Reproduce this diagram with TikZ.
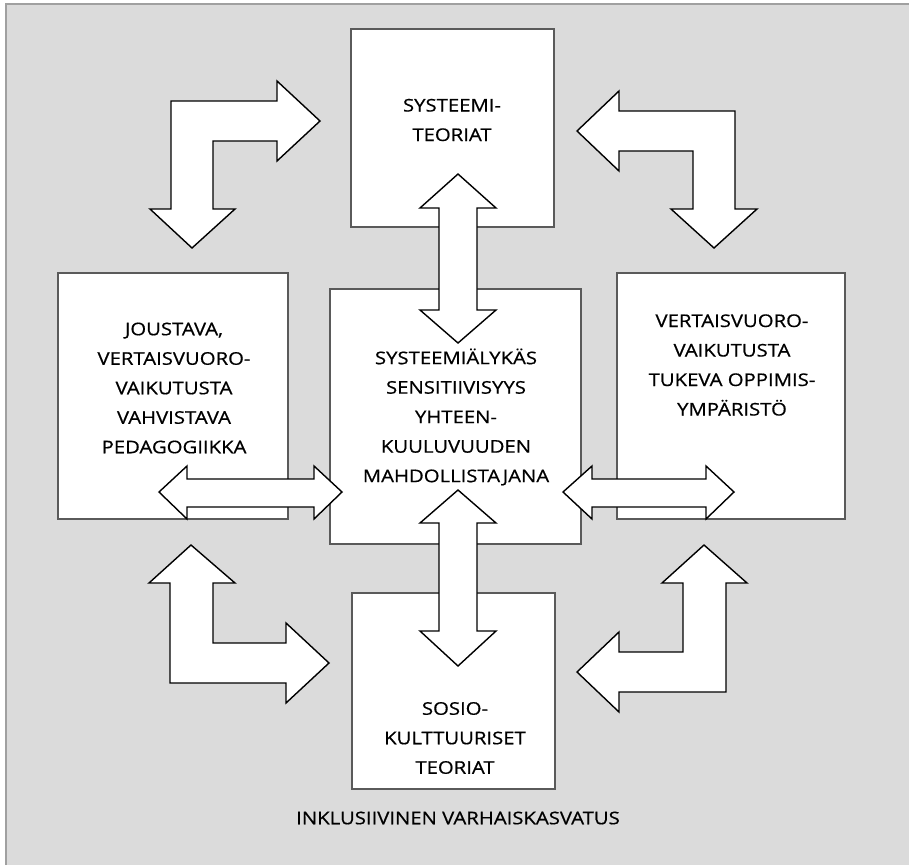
\documentclass[tikz,border=0pt]{standalone}
\usepackage{fontspec}
\setmainfont{Open Sans}[FakeStretch=1.16, FakeBold=0.6]
\usepackage{tikz}
\usetikzlibrary{positioning}
\definecolor{TaustaHarmaa}{RGB}{219,219,219}
\definecolor{ReunaHarmaa}{RGB}{160,160,160}
\definecolor{LaatikkoReuna}{RGB}{90,90,90}

\begin{document}
\begin{tikzpicture}[x=1pt, y=-1pt,
    laatikko/.style={shape=rectangle, draw=LaatikkoReuna, fill=white, line width=1.3pt, inner sep=0pt},
    teksti/.style={align=center, inner sep=0pt, font=\fontsize{17.5}{29.5}\selectfont},
    nuoli/.style={draw=black, fill=white, line width=1.4pt, line join=miter}]
    \useasboundingbox (0,0) rectangle (909,865);
    \fill[TaustaHarmaa] (6,4) rectangle (909,865);
    \draw[ReunaHarmaa, line width=1.2pt] (6,865) -- (6,4) -- (909,4);

    % laatikot
    \node[laatikko, minimum width=203, minimum height=198] (sys)  at (452.5,128) {};
    \node[laatikko, minimum width=230, minimum height=246] (ped)  at (173,396)   {};
    \node[laatikko, minimum width=251, minimum height=255] (sens) at (455.5,416.5) {};
    \node[laatikko, minimum width=228, minimum height=246] (env)  at (731,396)   {};
    \node[laatikko, minimum width=203, minimum height=196] (soc)  at (453.5,691) {};

    \node[teksti] (sysT)  at (452,120) {SYSTEEMI-\\TEORIAT};
    \node[teksti] (pedT)  at (174,388) {JOUSTAVA,\\VERTAISVUORO-\\VAIKUTUSTA\\VAHVISTAVA\\PEDAGOGIIKKA};
    \node[teksti] (sensT) at (456,417) {SYSTEEMIÄLYKÄS\\SENSITIIVISYYS\\YHTEEN-\\KUULUVUUDEN\\MAHDOLLISTAJANA};
    \node[teksti] (envT)  at (732,365) {VERTAISVUORO-\\VAIKUTUSTA\\TUKEVA OPPIMIS-\\YMPÄRISTÖ};
    \node[teksti] (socT)  at (455,738) {SOSIO-\\KULTTUURISET\\TEORIAT};
    \node[teksti] (inkl)  at (458,818) {INKLUSIIVINEN VARHAISKASVATUS};

    % kulmanuolet
    \draw[nuoli] (320,121) -- (277,161) -- (277,141) -- (213,141) -- (213,209) -- (235,209)
        -- (192,248) -- (150,209) -- (171,209) -- (171,101) -- (277,101) -- (277,81) -- cycle;
    \draw[nuoli] (577,131) -- (619,91) -- (619,111) -- (735,111) -- (735,209) -- (757,209)
        -- (714,248) -- (671,209) -- (693,209) -- (693,151) -- (619,151) -- (619,171) -- cycle;
    \draw[nuoli] (191,545) -- (235,583) -- (213,583) -- (213,643) -- (286,643) -- (286,623)
        -- (329,663) -- (286,703) -- (286,683) -- (170,683) -- (170,583) -- (149,583) -- cycle;
    \draw[nuoli] (704,545) -- (747,583) -- (726,583) -- (726,692) -- (619,692) -- (619,712)
        -- (577,672) -- (619,632) -- (619,652) -- (683,652) -- (683,583) -- (662,583) -- cycle;

    % suorat kaksoisnuolet
    \draw[nuoli] (458,174) -- (496,208) -- (477,208) -- (477,310) -- (496,310) -- (458,343)
        -- (420,310) -- (439,310) -- (439,208) -- (420,208) -- cycle;
    \draw[nuoli] (458,490) -- (496,523) -- (477,523) -- (477,631) -- (496,631) -- (458,666)
        -- (420,631) -- (439,631) -- (439,523) -- (420,523) -- cycle;
    \draw[nuoli] (159,492) -- (187,466) -- (187,479) -- (314,479) -- (314,466) -- (342,492)
        -- (314,519) -- (314,507) -- (187,507) -- (187,519) -- cycle;
    \draw[nuoli] (563,492) -- (592,466) -- (592,479) -- (706,479) -- (706,466) -- (734,492)
        -- (706,519) -- (706,507) -- (592,507) -- (592,519) -- cycle;
\end{tikzpicture}
\end{document}
